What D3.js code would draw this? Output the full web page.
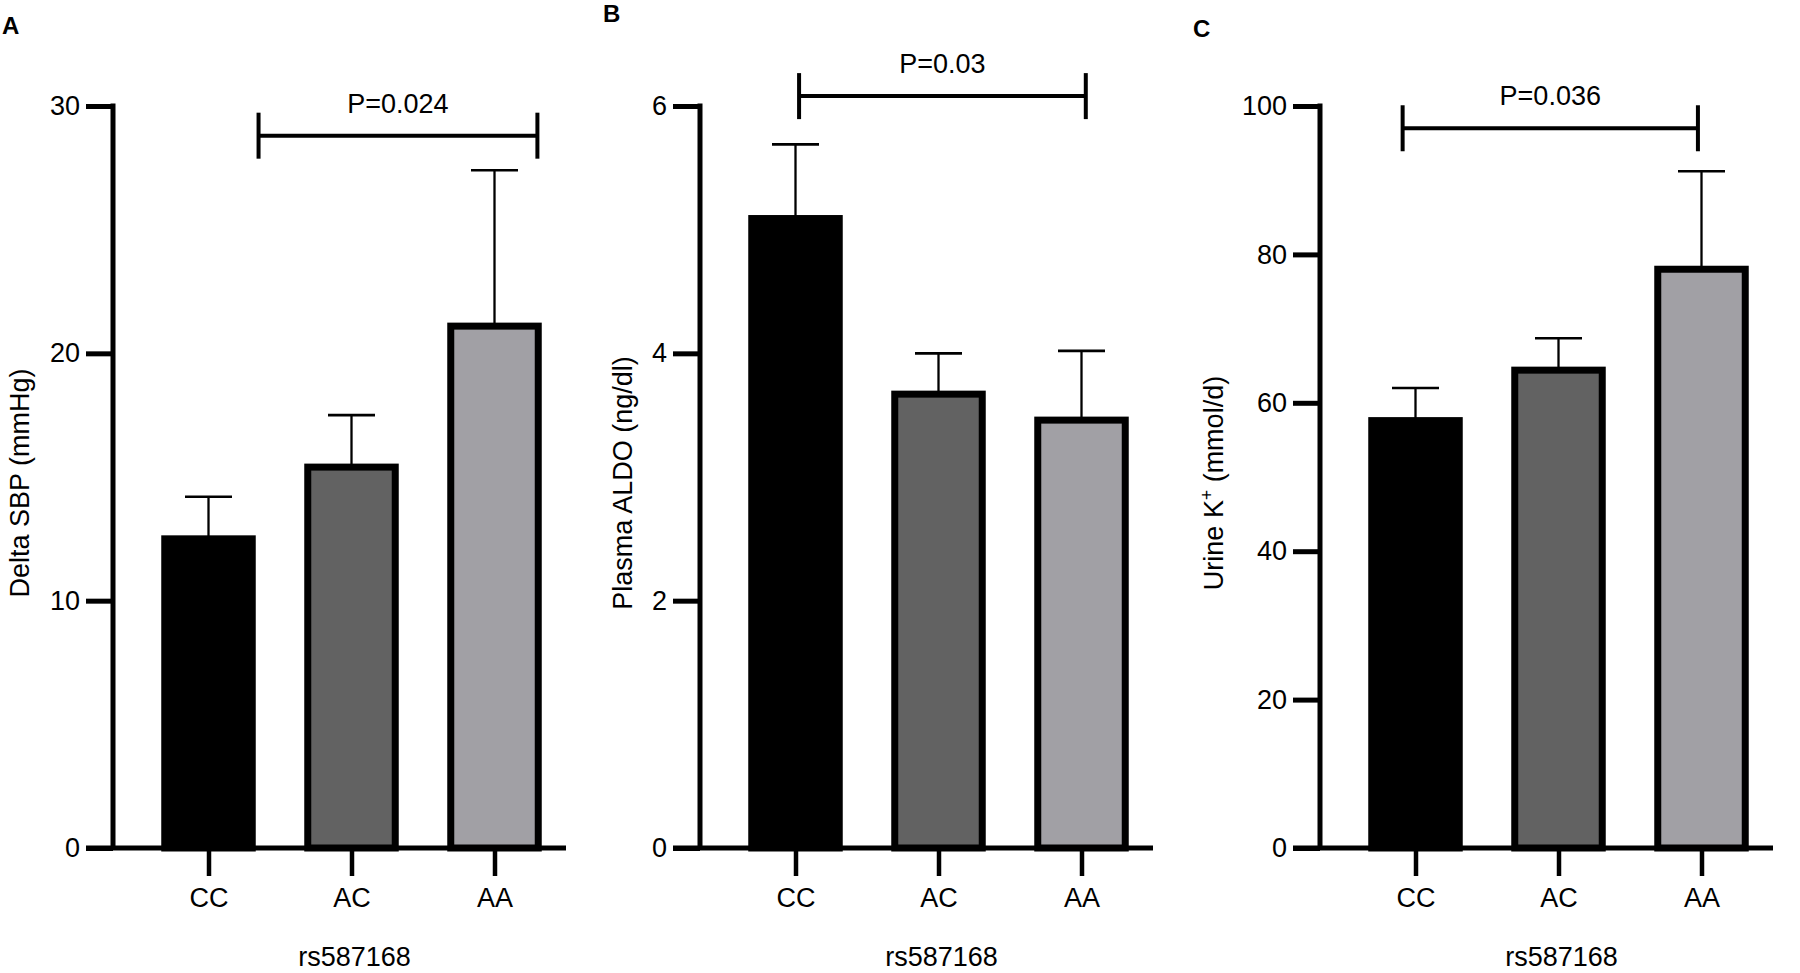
<!DOCTYPE html>
<html>
<head>
<meta charset="utf-8">
<script src="https://cdn.jsdelivr.net/npm/d3@7"></script>
<style>
  html, body { margin: 0; padding: 0; background: #fff; }
  svg { display: block; }
  text { font-family: "Liberation Sans", Arial, Helvetica, sans-serif; fill: #000; }
</style>
</head>
<body>
<svg id="chart" width="1800" height="973"></svg>
<script>
// ---------------- data ----------------
const categories = ["CC", "AC", "AA"];
const xAxisTitle = "rs587168";

const sbpMeans = [12.5, 15.4, 21.1];
const sbpErr   = [1.7, 2.1, 6.3];
const sbpTicks = [0, 10, 20, 30];

const aldoMeans = [5.09, 3.67, 3.46];
const aldoErr   = [0.60, 0.33, 0.56];
const aldoTicks = [0, 2, 4, 6];

const kMeans = [57.6, 64.4, 78.0];
const kErr   = [4.4, 4.3, 13.2];
const kTicks = [0, 20, 40, 60, 80, 100];

const panelLetters = ["A", "B", "C"];
const pValues = ["P=0.024", "P=0.03", "P=0.036"];

const barColors = ["#000000", "#626262", "#a1a0a5"];

// ---------------- layout ----------------
const panels = [
  { letter: panelLetters[0], means: sbpMeans, err: sbpErr, ticks: sbpTicks, title: "Delta SBP (mmHg)",
    axisX: 113, letterPos: [2, 34], titleOff: 84, p: pValues[0], br: [0.35, 2.3], brY: 28.8 },
  { letter: panelLetters[1], means: aldoMeans, err: aldoErr, ticks: aldoTicks, title: "Plasma ALDO (ng/dl)",
    axisX: 700, letterPos: [603, 22], titleOff: 68, p: pValues[1], br: [0.025, 2.03], brY: 6.08 },
  { letter: panelLetters[2], means: kMeans, err: kErr, ticks: kTicks, title: "Urine K+ (mmol/d)",
    axisX: 1320, letterPos: [1193, 37], titleOff: 97, p: pValues[2], br: [-0.09, 1.975], brY: 97.0 }
];

const yBottom = 848, yTop = 106;
const FS = 27;
const barW = 94.5, barStroke = 7;
const svg = d3.select("#chart");

panels.forEach((P, pi) => {
  const g = svg.append("g");
  const ax = P.axisX;
  const yMax = d3.max(P.ticks);
  const y = d3.scaleLinear().domain([0, yMax]).range([yBottom, yTop]);
  const x = d3.scalePoint().domain(categories).range([ax + 95.5, ax + 381.5]);
  const step = x.step();
  const idx = t => x(categories[0]) + t * step;

  // panel letter
  g.append("text").attr("x", P.letterPos[0]).attr("y", P.letterPos[1])
    .attr("font-size", 24).attr("font-weight", "bold").text(P.letter);

  const data = categories.map((c, i) => ({ c, v: P.means[i], e: P.err[i], col: barColors[i] }));

  // error bars (upper only)
  const eb = g.append("g");
  data.forEach(d => {
    eb.append("line").attr("x1", x(d.c)).attr("x2", x(d.c))
      .attr("y1", y(d.v)).attr("y2", y(d.v + d.e))
      .attr("stroke", "#000").attr("stroke-width", 2.3);
    eb.append("line").attr("x1", x(d.c) - 23.5).attr("x2", x(d.c) + 23.5)
      .attr("y1", y(d.v + d.e)).attr("y2", y(d.v + d.e))
      .attr("stroke", "#000").attr("stroke-width", 2.6);
  });

  // bars
  g.append("g").selectAll("rect").data(data).join("rect")
    .attr("x", d => x(d.c) - barW / 2 + barStroke / 2)
    .attr("width", barW - barStroke)
    .attr("y", d => y(d.v))
    .attr("height", d => y(0) - y(d.v))
    .attr("fill", d => d.col)
    .attr("stroke", "#000")
    .attr("stroke-width", barStroke)
    .attr("stroke-linejoin", "miter");

  // y axis
  const yAxis = d3.axisLeft(y).tickValues(P.ticks).tickSize(27).tickSizeOuter(0).tickPadding(6)
    .tickFormat(d3.format("d"));
  const ya = g.append("g").attr("transform", `translate(${ax},0)`).call(yAxis);
  ya.select(".domain").remove();
  ya.selectAll(".tick line").attr("stroke", "#000").attr("stroke-width", 5);
  ya.selectAll(".tick text").attr("font-size", FS).attr("font-family", null).attr("fill", "#000");
  g.append("line").attr("x1", ax).attr("x2", ax).attr("y1", yTop - 2.5).attr("y2", yBottom)
    .attr("stroke", "#000").attr("stroke-width", 5);

  // x axis
  const xAxis = d3.axisBottom(x).tickSize(28).tickPadding(12).tickSizeOuter(0);
  const xa = g.append("g").attr("transform", `translate(0,${yBottom})`).call(xAxis);
  xa.select(".domain").remove();
  xa.selectAll(".tick line").attr("stroke", "#000").attr("stroke-width", 4.5);
  xa.selectAll(".tick text").attr("font-size", FS).attr("font-family", null).attr("fill", "#000");
  g.append("line").attr("x1", ax - 27).attr("x2", ax + 453).attr("y1", yBottom).attr("y2", yBottom)
    .attr("stroke", "#000").attr("stroke-width", 5);

  // x axis title
  g.append("text").attr("x", x("AC") + 3).attr("y", 966).attr("text-anchor", "middle")
    .attr("font-size", FS).text(xAxisTitle);

  // y axis title
  const yt = g.append("text")
    .attr("transform", `translate(${ax - P.titleOff},483) rotate(-90)`)
    .attr("text-anchor", "middle").attr("font-size", FS);
  if (P.title.indexOf("K+") >= 0) {
    yt.append("tspan").text("Urine K");
    yt.append("tspan").attr("font-size", FS * 0.65).attr("dy", -10).text("+");
    yt.append("tspan").attr("dy", 10).text(" (mmol/d)");
  } else {
    yt.text(P.title);
  }

  // significance bracket
  const bx1 = idx(P.br[0]), bx2 = idx(P.br[1]), by = y(P.brY);
  const br = g.append("g").attr("stroke", "#000").attr("stroke-width", 4);
  br.append("line").attr("x1", bx1).attr("x2", bx2).attr("y1", by).attr("y2", by);
  br.append("line").attr("x1", bx1).attr("x2", bx1).attr("y1", by - 23).attr("y2", by + 23);
  br.append("line").attr("x1", bx2).attr("x2", bx2).attr("y1", by - 23).attr("y2", by + 23);
  g.append("text").attr("x", (bx1 + bx2) / 2).attr("y", by - 23).attr("text-anchor", "middle")
    .attr("font-size", FS).text(P.p);
});
</script>
</body>
</html>
